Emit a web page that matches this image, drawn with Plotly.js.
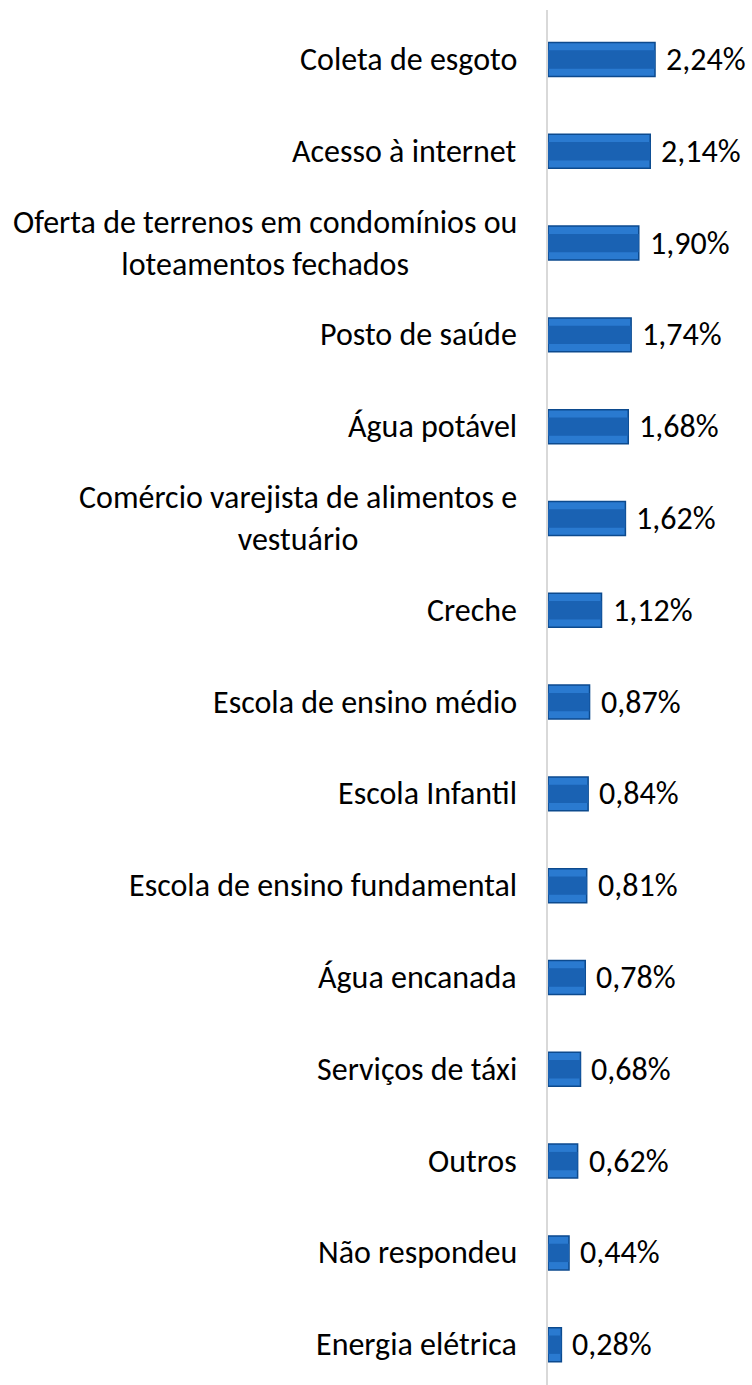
<!DOCTYPE html>
<html>
<head>
<meta charset="utf-8">
<script src="https://cdn.plot.ly/plotly-3.0.1.min.js"></script>
<style>html,body{margin:0;padding:0;background:#fff;}#chart{width:752px;height:1385px;}</style>
</head>
<body>
<div id="chart"></div>
<script>
var categories = [
  "Coleta de esgoto",
  "Acesso à internet",
  "Oferta de terrenos em condomínios ou<br>loteamentos fechados",
  "Posto de saúde",
  "Água potável",
  "Comércio varejista de alimentos e<br>vestuário",
  "Creche",
  "Escola de ensino médio",
  "Escola Infantil",
  "Escola de ensino fundamental",
  "Água encanada",
  "Serviços de táxi",
  "Outros",
  "Não respondeu",
  "Energia elétrica"
];
var values = [2.24, 2.14, 1.90, 1.74, 1.68, 1.62, 1.12, 0.87, 0.84, 0.81, 0.78, 0.68, 0.62, 0.44, 0.28];
var valueLabels = values.map(function(v){ return v.toFixed(2).replace('.', ',') + '%'; });

var FONT = "Carlito, Calibri, Lato, 'Open Sans', sans-serif";

var traces = [
  {
    type: 'bar', orientation: 'h',
    y: categories, x: values,
    width: 0.37,
    marker: { color: '#2a7ad0', line: { color: '#0c4a8e', width: 1.5 } },
    hoverinfo: 'skip', showlegend: false, cliponaxis: false
  },
  {
    type: 'bar', orientation: 'h',
    y: categories, x: values,
    width: 0.2,
    marker: { color: '#1a62b3', line: { width: 0 } },
    hoverinfo: 'skip', showlegend: false
  }
];

var annotations = [];
categories.forEach(function(c, i){
  annotations.push({
    xref: 'paper', yref: 'y', x: 0, y: c,
    text: c, showarrow: false, xanchor: 'right', yanchor: 'middle',
    align: 'center', xshift: -29,
    font: { family: FONT, size: 32, color: '#000' }
  });
  annotations.push({
    xref: 'x', yref: 'y', x: values[i], y: c,
    text: valueLabels[i], showarrow: false, xanchor: 'left', yanchor: 'middle',
    xshift: 9,
    font: { family: FONT, size: 32, color: '#000' }
  });
});

var layout = {
  width: 752, height: 1385,
  margin: { l: 548, r: 0, t: 10, b: 0, pad: 0 },
  paper_bgcolor: '#fff', plot_bgcolor: '#fff',
  barmode: 'overlay',
  showlegend: false,
  xaxis: { range: [0, 4.27], showgrid: false, zeroline: false, showticklabels: false, showline: false, ticks: '' },
  yaxis: {
    type: 'category', range: [14.439, -0.539],
    showticklabels: false, ticks: '', showgrid: false, zeroline: false,
    showline: true, linecolor: '#d9d9d9', linewidth: 2
  },
  annotations: annotations
};

Plotly.newPlot('chart', traces, layout, { displayModeBar: false, staticPlot: true });
</script>
</body>
</html>
